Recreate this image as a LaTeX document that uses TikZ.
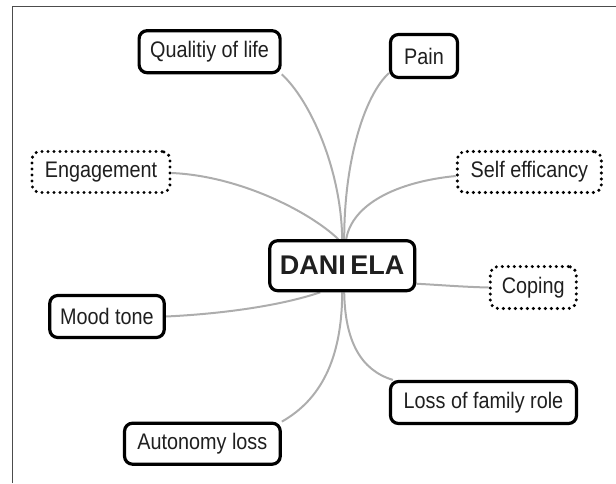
\documentclass[tikz,border=0pt]{standalone}
\usepackage{fontspec}
\setmainfont{Liberation Sans}[FakeStretch=0.88]
\newfontfamily\titlefont{Liberation Sans}
\usetikzlibrary{calc,backgrounds}
\begin{document}
\begin{tikzpicture}[x=1pt,y=-1pt,
  box/.style={draw=black, line width=3.2pt, rounded corners=8pt, fill=white, inner sep=0pt,
    font=\fontsize{22.5}{25}\selectfont, text=black!88},
  dotbox/.style={box, line width=3.4pt, dash pattern=on 0pt off 6pt, line cap=round},
  link/.style={draw=black!32, line width=2pt},
  frameline/.style={draw=black!70, line width=1.4pt}]
\useasboundingbox (0,0) rectangle (616,483);
\draw[frameline] (12.7,483) -- (12.7,6.7) -- (616,6.7);

\node[box, minimum width=141pt, minimum height=42pt] (Q) at (209.6,51.7) {Qualitiy of life};
\node[box, minimum width=67pt, minimum height=43pt] (P) at (424,56) {Pain};
\node[dotbox, minimum width=138pt, minimum height=41pt] (E) at (101,172) {Engagement};
\node[dotbox, minimum width=144pt, minimum height=41pt] (S) at (529.4,172) {Self efficancy};
\node[box, minimum width=145pt, minimum height=50pt, font=\titlefont\fontsize{27}{30}\bfseries] (D) at (342.2,265.7) {DANI\,ELA};
\node[dotbox, minimum width=86pt, minimum height=42pt] (C) at (533.3,287.5) {Coping};
\node[box, minimum width=114.5pt, minimum height=42pt] (M) at (107,316.5) {Mood tone};
\node[box, minimum width=186pt, minimum height=42pt] (L) at (483.5,402.5) {Loss of family role};
\node[box, minimum width=155.7pt, minimum height=41pt] (A) at (202.4,443.7) {Autonomy loss};

\begin{pgfonlayer}{background}
\draw[link] ($(D.north)+(0,0)$) .. controls ($(D.north)+(-1,-70)$) and (310,100) .. (Q.south east);
\draw[link] ($(D.north)+(2,0)$) .. controls ($(D.north)+(2,-80)$) and (365,95) .. ([yshift=6pt]P.south west);
\draw[link] ($(D.north)+(-4,0)$) .. controls (310,212) and (240,176) .. ([yshift=-1pt]E.east);
\draw[link] ($(D.north)+(4,0)$) .. controls (352,205) and (395,182) .. ([yshift=-4pt]S.west);
\draw[link] ([yshift=-18pt]D.east) .. controls (440,285) and (465,287) .. (C.west);
\draw[link] ($(D.south)+(-22,0)$) .. controls (280,306) and (220,314) .. (M.east);
\draw[link] ($(D.south)+(2,0)$) .. controls (345,340) and (360,370) .. ([xshift=4pt]L.north west);
\draw[link] (D.south) .. controls (342,360) and (320,400) .. (A.north east);
\end{pgfonlayer}
\end{tikzpicture}
\end{document}
